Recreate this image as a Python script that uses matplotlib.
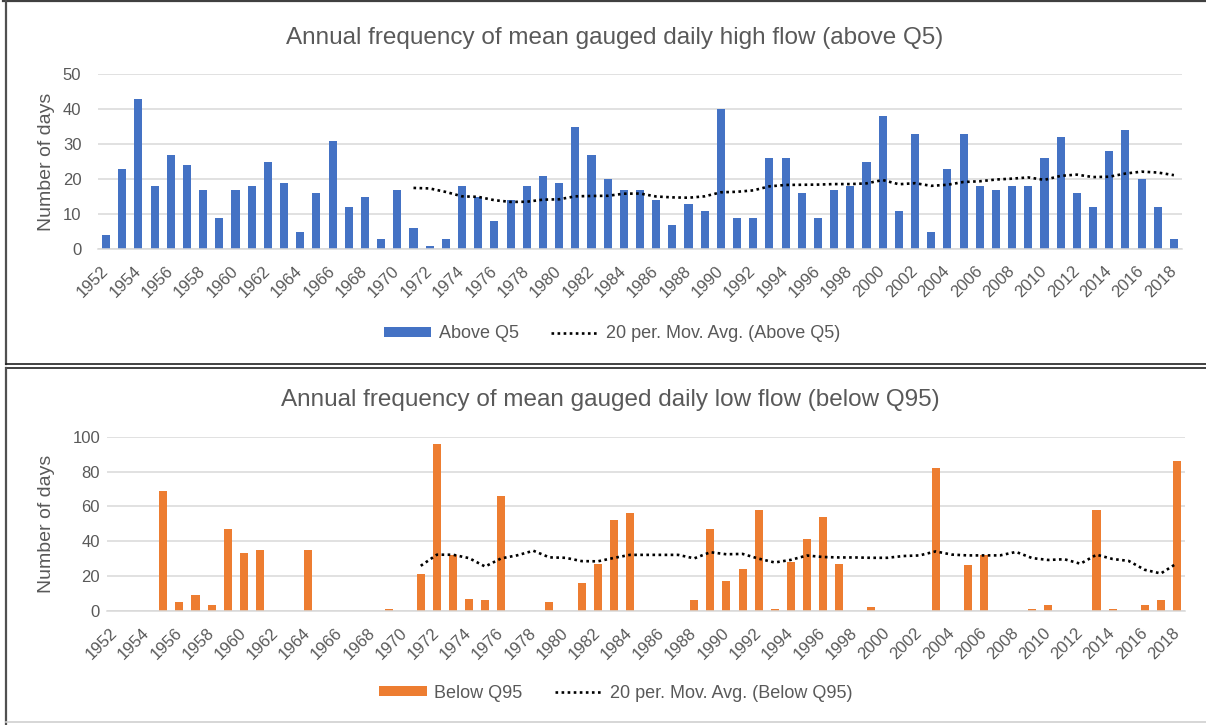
import numpy as np
import pandas as pd
import matplotlib
matplotlib.use("Agg")
import matplotlib.pyplot as plt
from matplotlib.lines import Line2D

plt.rcParams['font.family'] = ['Liberation Sans', 'DejaVu Sans']

years = list(range(1952, 2019))

above_q5 = [4, 23, 43, 18, 27, 24, 17, 9, 17, 18,
            25, 19, 5, 16, 31, 12, 15, 3, 17, 6,
            1, 3, 18, 15, 8, 14, 18, 21, 19, 35,
            27, 20, 17, 17, 14, 7, 13, 11, 40, 9,
            9, 26, 26, 16, 9, 17, 18, 25, 38, 11,
            33, 5, 23, 33, 18, 17, 18, 18, 26, 32,
            16, 12, 28, 34, 20, 12, 3]

# empty years are blank cells in the sheet (Excel's moving average skips them)
below_q95 = [None, None, None, 69, 5, 9, 3, 47, 33, 35,
             None, None, 35, None, None, None, None, 1, None, 21,
             96, 32, 7, 6, 66, None, None, 5, None, 16,
             27, 52, 56, None, None, None, 6, 47, 17, 24,
             58, 1, 28, 41, 54, 27, None, 2, None, None,
             None, 82, None, 26, 32, None, None, 1, 3, None,
             None, 58, 1, None, 3, 6, 86]

tick_years = years[::2]

GREY = '#595959'
GRID = '#D9D9D9'
W, H = 1206, 725


def moving_avg(vals, period=20):
    s = pd.Series(vals, dtype=float)
    ma = s.rolling(period, min_periods=1).mean()
    ma.iloc[:period - 1] = np.nan
    return ma


def draw_panel(rect, vals, color, ymax, step, title, name, ylab_x, ypad, leg_xy, title_xy):
    ax = fig.add_axes(rect)
    s = pd.Series(vals, dtype=float)
    bars = ax.bar(years, s, width=0.5, color=color, zorder=2)
    line, = ax.plot(years, moving_avg(vals), color='black', lw=1.9, ls=(0, (1, 1.3)),
                    zorder=3)
    ax.set_xlim(1951.5, 2018.5)
    ax.set_ylim(0, ymax)
    ax.set_yticks(range(0, ymax + 1, step))
    ax.set_xticks(tick_years)
    ax.set_xticklabels([str(y) for y in tick_years], rotation=45, ha='right',
                       va='center', rotation_mode='anchor')
    ax.tick_params(axis='x', length=0, pad=14, labelsize=12, labelcolor=GREY)
    ax.tick_params(axis='y', length=0, pad=ypad, labelsize=12, labelcolor=GREY)
    ax.grid(axis='y', color=GRID, lw=1.1, zorder=0)
    for sp in ['top', 'right', 'left']:
        ax.spines[sp].set_visible(False)
    ax.spines['bottom'].set_color(GRID)
    ax.spines['bottom'].set_linewidth(1.1)
    ax.set_ylabel('Number of days', fontsize=14, color=GREY)
    ax.yaxis.set_label_coords(ylab_x, 0.5)
    fig.text(title_xy[0] / W, 1 - title_xy[1] / H, title, fontsize=17.5,
             color=GREY, ha='center', va='center')
    ax.legend([bars, line], [name, '20 per. Mov. Avg. (%s)' % name],
              loc='center', bbox_to_anchor=(leg_xy[0] / W, 1 - leg_xy[1] / H),
              bbox_transform=fig.transFigure, ncol=2, frameon=False, fontsize=13,
              labelcolor=GREY, handlelength=2.65, handleheight=0.45,
              handletextpad=0.4, columnspacing=1.8)
    return ax


fig = plt.figure(figsize=(W / 100, H / 100), dpi=100)

draw_panel([98 / W, 1 - 249 / H, 1084 / W, 175 / H], above_q5, '#4472C4', 50, 10,
           'Annual frequency of mean gauged daily high flow (above Q5)', 'Above Q5',
           -0.040, 12, (612, 334), (615, 38))

draw_panel([107 / W, 1 - 610.7 / H, 1078 / W, 174 / H], below_q95, '#ED7D31', 100, 20,
           'Annual frequency of mean gauged daily low flow (below Q95)', 'Below Q95',
           -0.048, 5, (616, 693), (610, 400))


# panel frames
def hline(y, x0, x1, color, lw):
    fig.add_artist(Line2D([x0 / W, x1 / W], [1 - y / H, 1 - y / H],
                          color=color, lw=lw, transform=fig.transFigure))


def vline(x, y0, y1, color, lw):
    fig.add_artist(Line2D([x / W, x / W], [1 - y0 / H, 1 - y1 / H],
                          color=color, lw=lw, transform=fig.transFigure))


hline(1, 3, W, '#404040', 1.6)
vline(6, 0, 364, '#505050', 1.6)
hline(364, 6, W, '#202020', 1.2)
hline(368, 6, W, '#202020', 1.2)
vline(6, 368, H, '#505050', 1.6)
hline(722, 6, W, '#D0D0D0', 1.2)

fig.savefig('out.png', dpi=100)
